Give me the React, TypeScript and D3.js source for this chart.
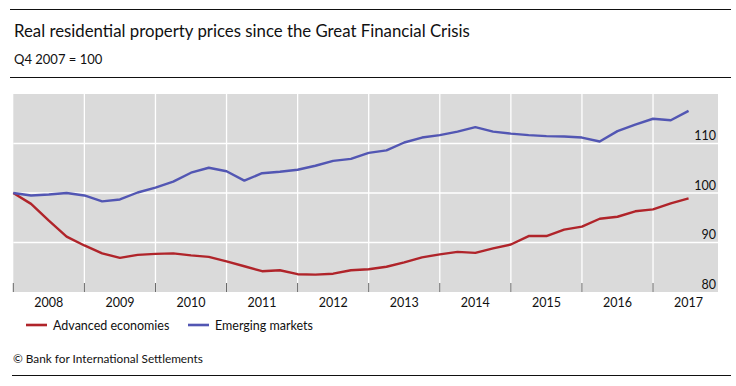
import { useMemo } from 'react'
import * as d3 from 'd3'

// Quarter-end observations, Q4 2007 = 100
const quarters = [
  '2007Q4',
  '2008Q1', '2008Q2', '2008Q3', '2008Q4',
  '2009Q1', '2009Q2', '2009Q3', '2009Q4',
  '2010Q1', '2010Q2', '2010Q3', '2010Q4',
  '2011Q1', '2011Q2', '2011Q3', '2011Q4',
  '2012Q1', '2012Q2', '2012Q3', '2012Q4',
  '2013Q1', '2013Q2', '2013Q3', '2013Q4',
  '2014Q1', '2014Q2', '2014Q3', '2014Q4',
  '2015Q1', '2015Q2', '2015Q3', '2015Q4',
  '2016Q1', '2016Q2', '2016Q3', '2016Q4',
  '2017Q1', '2017Q2',
]

const advanced = [
  100, 97.8, 94.4, 91.2, 89.4, 87.8, 86.9, 87.5, 87.7, 87.8, 87.4, 87.1, 86.2,
  85.2, 84.2, 84.4, 83.6, 83.5, 83.7, 84.4, 84.6, 85.1, 86.0, 87.0, 87.6, 88.1,
  87.9, 88.8, 89.6, 91.3, 91.3, 92.6, 93.2, 94.8, 95.2, 96.3, 96.7, 97.9, 98.9,
]

const emerging = [
  100, 99.5, 99.7, 100.0, 99.5, 98.3, 98.7, 100.1, 101.1, 102.3, 104.1, 105.1, 104.4,
  102.5, 104.0, 104.3, 104.7, 105.5, 106.5, 106.9, 108.1, 108.6, 110.2, 111.2, 111.7, 112.4,
  113.3, 112.4, 112.0, 111.7, 111.5, 111.4, 111.2, 110.4, 112.5, 113.8, 115.0, 114.7, 116.6,
]

const years = [2008, 2009, 2010, 2011, 2012, 2013, 2014, 2015, 2016, 2017]
const yTicks = [80, 90, 100, 110]

const series = [
  { name: 'Advanced economies', values: advanced, color: '#b0242a' },
  { name: 'Emerging markets', values: emerging, color: '#5256b3' },
]

const W = 736
const H = 386
const font = 'Lato, "Open Sans", sans-serif'

// Q4 2007 sits at the start of 2008, each quarter a quarter-year later
function quarterPos(q: string) {
  const y = +q.slice(0, 4)
  const n = +q.slice(5)
  return y + n / 4
}

export default function App() {
  const plot = { left: 13.3, right: 718, top: 94, bottom: 292 }

  const x = useMemo(() => d3.scaleLinear().domain([2008, 2018]).range([plot.left, 724.1]), [])
  const y = useMemo(() => d3.scaleLinear().domain([80, 120]).range([plot.bottom, plot.top]), [])

  const line = d3.line<number>()
    .x((_, i) => x(quarterPos(quarters[i])))
    .y(d => y(d))

  return (
    <svg
      width={W}
      height={H}
      style={{ position: 'absolute', left: 0, top: 0, background: '#fff' }}
      fontFamily={font}
    >
      {/* header rules and titles */}
      <line x1={10} x2={731} y1={9.5} y2={9.5} stroke="#111" strokeWidth={1} />
      <text x={14} y={37} fontSize={16.8} fill="#111">
        Real residential property prices since the Great Financial Crisis
      </text>
      <text x={14} y={64} fontSize={13} fill="#111">Q4 2007 = 100</text>
      <line x1={10} x2={731} y1={77.5} y2={77.5} stroke="#111" strokeWidth={1} />

      {/* plot background */}
      <rect
        x={plot.left}
        y={plot.top}
        width={plot.right - plot.left}
        height={plot.bottom - plot.top}
        fill="#dadada"
      />

      {/* gridlines */}
      {yTicks.slice(1).map(t => (
        <line key={'h' + t} x1={plot.left} x2={plot.right} y1={y(t)} y2={y(t)}
          stroke="#fff" strokeWidth={1.3} />
      ))}
      {years.slice(1).map(t => (
        <line key={'v' + t} x1={x(t)} x2={x(t)} y1={plot.top} y2={plot.bottom}
          stroke="#fff" strokeWidth={1.3} />
      ))}

      {/* x tick marks */}
      {years.map(t => (
        <line key={'t' + t} x1={x(t)} x2={x(t)} y1={plot.bottom - 9} y2={plot.bottom}
          stroke="#666" strokeWidth={1} />
      ))}

      {/* series */}
      {series.map(s => (
        <path key={s.name} d={line(s.values) || ''} fill="none" stroke={s.color}
          strokeWidth={2.4} strokeLinejoin="round" />
      ))}

      {/* y labels, inside on the right */}
      {yTicks.map(t => (
        <text key={'yl' + t} x={716} y={y(t) - 3.5} textAnchor="end" fontSize={12.5} fill="#111">
          {t}
        </text>
      ))}

      {/* x labels, centred on each year */}
      {years.map(t => (
        <text key={'xl' + t} x={x(t + 0.5)} y={307} textAnchor="middle" fontSize={12.5} fill="#111">
          {t}
        </text>
      ))}

      {/* legend */}
      {series.map((s, i) => {
        const lx = i === 0 ? 26 : 188
        return (
          <g key={'lg' + s.name}>
            <line x1={lx} x2={lx + 21} y1={325} y2={325} stroke={s.color} strokeWidth={2.6} />
            <text x={lx + 27} y={329.5} fontSize={12.5} fill="#111">{s.name}</text>
          </g>
        )
      })}

      {/* footer */}
      <text x={13} y={363} fontSize={11.8} fill="#111">© Bank for International Settlements</text>
      <line x1={12} x2={731} y1={375.5} y2={375.5} stroke="#111" strokeWidth={1} />
    </svg>
  )
}
